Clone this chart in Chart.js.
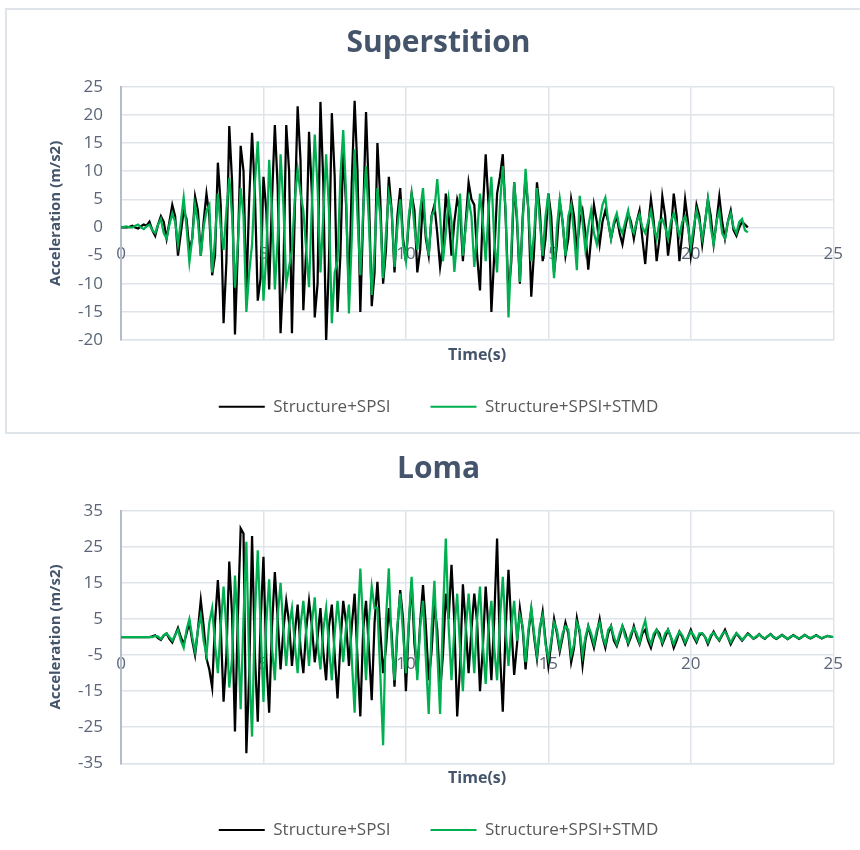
<!DOCTYPE html>
<html>
<head>
<meta charset="utf-8">
<script src="https://cdn.jsdelivr.net/npm/chart.js@4.4.0/dist/chart.umd.min.js"></script>
<style>
    body { margin: 0; background: #fff; }
    #frame { position: absolute; left: 5px; top: 8px; width: 870px; height: 422px; border: 2px solid #dfe3ea; border-right: none; }
    #superChart { position: absolute; left: 0; top: 0; }
    #lomaChart { position: absolute; left: 0; top: 432px; }
</style>
</head>
<body>
<div id="frame"></div>
<canvas id="superChart" width="860" height="432"></canvas>
<canvas id="lomaChart" width="860" height="418"></canvas>
<script>
// sample spacing of the records (s)
const timeStep = 0.1;
const xTicks = [0, 5, 10, 15, 20, 25];
const seriesNames = ['Structure+SPSI', 'Structure+SPSI+STMD'];

// Superstition, one row per second, t = 0 .. 22 s
const superBlack = [
    0, 0, 0, 0.1, 0.3, 0, -0.2, 0.2, 0.5, 0.3,
    1, -0.5, -1.5, 0.5, 2, 1, -2, 1, 4, 2,
    -5, -1, 3, 1.5, -4, -2, 5.5, 3, -5, 1,
    6, 2, -8.5, -5, 11.5, 4, -17, -6, 18, 8,
    -19, -4, 14.5, 10, -12, 5, 16.8, 6, -13, -9,
    9, 3, -11, 5, 18.2, 7, -18.8, -8, 18.2, 10,
    -18.8, 3, 21.5, 12, -14.7, -4, 17, 6, -16, -10,
    22.3, 8, -20.3, -6, 20.3, 9, -15, -5, 14, 4,
    -12, 8, 22.5, 10, -15, 2, 20.5, 6, -14, -8,
    15, 5, -10, -4, 9, 3, -8, 2, 7, -2,
    -6, 1, 6, 3, -8, -4, 5, -2, -5, 2,
    4, -1, -7, -3, 6, 2, -5, 1, 5, 3,
    -6, 1, 8, 5, 4, -5, -11.2, 3, 13, 4,
    -15, -5, 6, 9, 13, 2, -12, -6, 8, 1,
    -10, 2, 9, 3, -12.3, -4, 8, 3, -6, -2,
    6, 2, -8, -3, 4.5, 1, -5, -2, 5, 2,
    -4, 1, 3, -1, -7.5, -2, 4, 1, -3, 1,
    3, 1, -2, 0.5, 2, -1, -3, 0, 2.5, 1,
    -2, 1, 3, -2, -6.5, 0, 5, 1, -6, -2,
    5.5, 2, -5, -1, 6, 2, -6, -1, 5, 1,
    -5, -1, 4, 2, -3, 1, 5, 2, -3, 1,
    5.5, 1, -2, 1, 3, -0.5, -1.5, 0, 1, 0.5,
    0
];
const superGreen = [
    0, 0.1, 0.2, 0, 0, 0.3, 0.5, 0, -0.3, 0.2,
    0.5, -0.5, -1, 0.5, 1.5, -1, -2, 0.5, 2.5, 1,
    -3, 1, 5.3, 0, -6.2, -2, 4, 1, -5, 0,
    3, 4, -8, -2, 6, 0, -4, 3, 8.8, 2,
    -10.7, -3, 7, 2, -15, -8, -3, 8, 15.3, 4,
    -13, -5, 12, 3, -11, -2, 13, 4, -10, -7,
    -4, 5, 10.3, 6, 3, -4, -10.6, 4, 16.5, 7,
    -8, 2, 13, 3, -17, -8, -6, 9, 17.3, 6,
    -15.3, -2, 13.9, 2, -8.5, 3, 10.9, 1, -12, -4,
    7, 2, -9, -1, 6, 3, -7, 0, 5, -3,
    -6, 2, 6, 0, -4, 3, 7, -1, -5, 2,
    3, 8.6, 2, -6, -1, 5, 1, -7.9, -2, 6,
    -5, 0, 5, 2, -7, -1, 6, 1, -6, 3,
    9, -2, -8, 4, 10.9, 3, -16, -4, 8, 2,
    -9.7, 1, 10.4, 3, -6, -1, 7, 1, -5, 2,
    6, -2, -9, 0, 5, 1, -5, 2, 4, -1,
    -7.6, 5.6, 1, -4, 0, 3, -1, -3, 1, 4,
    5.3, 1, -2, 1, 2.5, 0, -1, 1, 3, 0,
    -1, 1, 2.3, 0, -1, 1, 3, 0, -2, 1,
    1.5, 0, -2, 1, 2.5, 0.5, -1.5, 1, 2, 0,
    -3.5, 0, 3, 1, -2, 1, 5, 0, -3, 1,
    3, -1, -2, 1, 2.5, 0, -1, 1, 1.5, -0.5,
    -0.9
];

// Loma, one row per second, t = 0 .. 25 s
const lomaBlack = [
    0, 0, 0, 0, 0, 0, 0, 0, 0, 0,
    0, 0.2, 0.5, -0.3, -0.8, 0.4, 1, -0.5, -1.5, 0.5,
    2.5, 0, -2, 1, 4, -1, -5, 2, 10.2, 3,
    -6, -9, -14, 4, 15.8, 3, -17.9, -5, 20.9, 6,
    -26.2, 5, 30.1, 28.7, -32.2, -10, 28, -5, -23.5, 4,
    22.2, -6, -21, 3, 18, 5, -9, 2, 10, 4,
    -8, 1, 9, -3, -10, 2, 10, 3, -7, 0,
    8, -4, -12, 3, 9, -5, -17, -2, 10, 4,
    -8, 3, 12, -6, -22, 2, 10, -3, -17.5, 4,
    15.3, 2, -10, -3, 8, 1, -13.8, 2, 13, 5,
    -15, 3, 15.3, -2, -10, 4, 14.4, 3, -12, -4,
    9, 2, -15, -5, 12, 5, 20, 4, -22, -8,
    14.6, 3, -10, 2, 12, 4, -15, -3, 14, 2,
    -12, 5, 27.3, -4, -20.7, 2, 18.6, 3, -10.5, -2,
    8, 2, -9, 1, 7.6, 0, -6, 2, 7, -1,
    -8, -2, 5, 1, -4, 0, 4, 1, -7, -3,
    5.2, 1, -7.8, -1, 3, 0, -3, 1, 5, 0,
    -3, 1, 3, -1, -2.5, 0, 3, 1, -2, 0,
    3, 0, -2, 1, 2, -1, -3, 0, 2, 1,
    -2, 0, 2, 0, -3, -1, 1.5, 0, -2, 0,
    2, 0, -1.5, 0.5, 1, 0, -2, 0, 1.5, 0,
    -1, 0.5, 2, 0, -2, -0.5, 1, 0, -1, 0,
    1, 0.3, -0.5, 0, 0.8, 0, -0.5, 0.2, 0.8, 0,
    -0.5, 0, 0.6, 0, -0.6, 0, 0.5, 0, -0.5, 0,
    0.6, 0, -0.4, 0, 0.5, 0, -0.4, 0, 0.3, 0.1,
    0
];
const lomaGreen = [
    0, 0, 0, 0, 0, 0, 0, 0, 0, 0,
    0, 0, 0.3, 0.1, -0.6, 0.5, 1, 0, -1, 0.5,
    2, -1, -3, 2, 5, 0, -4, 2, 6, -1,
    -5, 4, 8, -2, -10, 3, 14, 2, -14, -6,
    17, 2, -20, 5, 26.4, -8, -27.6, 6, 24, 3,
    -18, 4, 16, -3, -12, 6, 15, 2, -8, 3,
    8, -2, -10, 3, 10, 1, -8, 4, 11, -2,
    -9, 2, 8, -3, -12, 1, 10, 2, -7, 3,
    9, -6, -21, 2, 19, 3, -12, 4, 14, 8,
    8, -10, -30, 5, 19, -2, -12, 3, 12, 1,
    -10, 4, 16.7, 2, -12, 3, 10, -6, -21.3, 2,
    15.6, -4, -21.3, 6, 27.3, 3, -12, 2, 12, -3,
    -15, 2, 12, 1, -10, 5, 14, -2, -13, 3,
    10, -3, -12, 5, 16.7, 2, -8, 3, 10, -1,
    6, 3, -7, 2, 8, 1, -5, 3, 6, -2,
    -6, -1, 4, 2, -3, 1, 3, 2, -5, -2,
    4, 2, -5, 0, 3, 1, -2, 2, 4, 0,
    -2, 2, 3, 0, -2, 1, 3, 0, -1.5, 1,
    2.5, 1, -1.5, 2, 4.6, 0, -2, 1, 2, 0,
    -1.5, 1, 2, 0, -2, 0, 1.5, 0.5, -1.5, 0,
    1.5, 0.5, -1, 1, 1, 0, -1.5, 0.5, 1.2, 0,
    -0.8, 0.8, 1.5, 0, -1.5, 0, 1, 0.3, -0.8, 0,
    0.8, 0.3, -0.4, 0.2, 0.7, 0, -0.4, 0.3, 0.7, 0,
    -0.4, 0.1, 0.5, 0, -0.5, 0.1, 0.4, 0, -0.4, 0,
    0.5, 0, -0.3, 0.1, 0.4, 0, -0.3, 0, 0.3, 0.1,
    0
];

const font = "'Open Sans', 'DejaVu Sans', sans-serif";
const slate = '#44546a';
const tickColor = '#5b6577';
const gridColor = '#dfe3ea';

function toPoints(values) {
    return values.map((v, i) => ({ x: +(i * timeStep).toFixed(1), y: v }));
}

function buildChart(canvasId, opts) {
    const ctx = document.getElementById(canvasId).getContext('2d');
    return new Chart(ctx, {
        type: 'line',
        data: {
            datasets: [{
                label: seriesNames[0],
                data: toPoints(opts.black),
                borderColor: '#000000',
                backgroundColor: '#000000',
                borderWidth: 2.25,
                pointRadius: 0,
                tension: 0,
                order: 1
            }, {
                label: seriesNames[1],
                data: toPoints(opts.green),
                borderColor: '#00b050',
                backgroundColor: '#00b050',
                borderWidth: 2.25,
                pointRadius: 0,
                tension: 0,
                order: 0
            }]
        },
        options: {
            responsive: false,
            animation: false,
            devicePixelRatio: 1,
            layout: {
                padding: { left: 43, right: 26, top: 0, bottom: opts.padBottom }
            },
            plugins: {
                tooltip: { enabled: false },
                title: {
                    display: true,
                    text: opts.title,
                    color: slate,
                    font: { family: font, size: 30, weight: 'bold' },
                    padding: { top: opts.titleTop, bottom: opts.titleBottom }
                },
                legend: {
                    position: 'bottom',
                    labels: {
                        boxWidth: 46,
                        boxHeight: 2,
                        padding: 40,
                        color: '#595959',
                        font: { family: font, size: 17 },
                        sort: (a, b) => a.datasetIndex - b.datasetIndex,
                        generateLabels: chart => Chart.defaults.plugins.legend.labels.generateLabels(chart)
                            .map(item => Object.assign(item, { lineWidth: 0, fillStyle: item.strokeStyle }))
                    }
                }
            },
            scales: {
                x: {
                    type: 'linear',
                    min: xTicks[0],
                    max: xTicks[xTicks.length - 1],
                    ticks: { stepSize: 5, display: false },
                    grid: { color: gridColor, lineWidth: 1.5, drawTicks: false },
                    border: { color: gridColor, width: 1.5 },
                    title: {
                        display: true,
                        text: 'Time(s)',
                        color: slate,
                        font: { family: font, size: 16, weight: 'bold' },
                        padding: { top: 0, bottom: opts.timePad }
                    },
                    afterFit: scale => { scale.height = opts.xHeight; }
                },
                xZero: {
                    type: 'linear',
                    axis: 'x',
                    position: { y: 0 },
                    min: xTicks[0],
                    max: xTicks[xTicks.length - 1],
                    ticks: { stepSize: 5, padding: 17, color: tickColor, font: { family: font, size: 17 } },
                    grid: { display: false, drawTicks: false },
                    border: { display: false }
                },
                y: {
                    min: opts.yMin,
                    max: opts.yMax,
                    ticks: { stepSize: opts.yStep, padding: 18, color: tickColor, font: { family: font, size: 17 } },
                    grid: { color: gridColor, lineWidth: 1.5, drawTicks: false },
                    border: { color: '#b4bccb', width: 2 },
                    title: {
                        display: true,
                        text: 'Acceleration (m/s2)',
                        color: slate,
                        font: { family: font, size: 15, weight: 'bold' }
                    },
                    afterFit: scale => { scale.width = 78; }
                }
            }
        }
    });
}

buildChart('superChart', {
    title: 'Superstition',
    black: superBlack,
    green: superGreen,
    yMin: -20, yMax: 25, yStep: 5,
    titleTop: 25, titleBottom: 25.7,
    xHeight: 18.2, timePad: -6.4, padBottom: 6.8
});

buildChart('lomaChart', {
    title: 'Loma',
    black: lomaBlack,
    green: lomaGreen,
    yMin: -35, yMax: 35, yStep: 10,
    titleTop: 19.3, titleBottom: 23.4,
    xHeight: 18.2, timePad: -6.1, padBottom: 1.5
});
</script>
</body>
</html>
